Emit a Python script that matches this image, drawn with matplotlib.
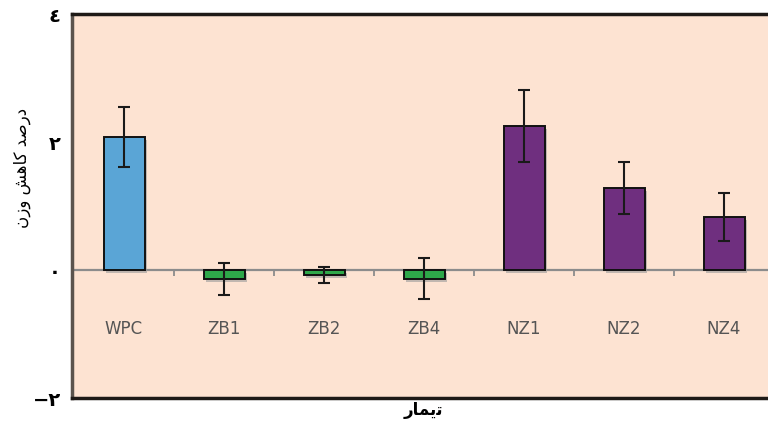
import matplotlib
matplotlib.use("Agg")
import matplotlib.pyplot as plt
import matplotlib.patheffects as pe

# ---- data ----
categories = ["WPC", "ZB1", "ZB2", "ZB4", "NZ1", "NZ2", "NZ4"]
values = [2.08, -0.14, -0.08, -0.14, 2.25, 1.28, 0.83]
errors = [0.47, 0.25, 0.12, 0.32, 0.57, 0.41, 0.38]
bar_colors = ["#5AA5D6", "#2EA84A", "#2EA84A", "#2EA84A", "#6F2F7F", "#6F2F7F", "#6F2F7F"]
ytick_values = [-2, 0, 2, 4]
ytick_labels = ["\u2212\u0662", "\u0660", "\u0662", "\u0664"]
# pre-shaped (presentation forms, visual order) Persian labels
ylabel_text = "\uFEE5\uFEAF\uFEED \uFEB6\uFEEB\uFE8E\uFB90 \uFEAA\uFEBB\uFEAD\uFEA9"  # درصد کاهش وزن
xlabel_text = "\uFEAD\uFE8E\uFEE4\uFBFE\uFE97"  # تیمار

fig = plt.figure(figsize=(7.68, 4.23), dpi=100)
fig.patch.set_facecolor("white")
ax = fig.add_axes([72 / 768, 1 - 398 / 423, 702 / 768, 384 / 423])
ax.set_facecolor("#FDE3D2")

x = list(range(len(categories)))
bars = ax.bar(x, values, width=0.41, color=bar_colors, edgecolor="#111111",
              linewidth=1.4, zorder=3)
for b in bars:
    b.set_path_effects([pe.SimplePatchShadow(offset=(2, -2), shadow_rgbFace="#9a9a9a", alpha=0.6),
                        pe.Normal()])
ax.errorbar(x, values, yerr=errors, fmt="none", ecolor="#1a1a1a", elinewidth=1.5,
            capsize=4, capthick=1.5, zorder=4)

ax.axhline(0, color="#8c8c8c", lw=1.6, zorder=2)
ax.vlines([i + 0.5 for i in x[:-1]], -0.09, 0, color="#8c8c8c", lw=1.3, zorder=2)

for xi, c in zip(x, categories):
    ax.text(xi, -0.92, c, ha="center", va="center", fontsize=12,
            color="#555555", family="DejaVu Sans")

ax.set_xlim(-0.52, 6.5)
ax.set_ylim(-2, 4)
ax.set_xticks([])
ax.set_yticks(ytick_values)
ax.set_yticklabels(ytick_labels, fontsize=14, fontweight="bold", family="DejaVu Sans")
ax.tick_params(axis="y", length=0, pad=8)

for s in ["top", "bottom", "right"]:
    ax.spines[s].set_color("#1e1a17")
    ax.spines[s].set_linewidth(2.5)
ax.spines["left"].set_color("#5b544e")
ax.spines["left"].set_linewidth(2.5)

fig.text(22 / 768, 1 - 168 / 423, ylabel_text, rotation=90, ha="center", va="center",
         fontsize=12, family="DejaVu Sans")
fig.text(423 / 768, 1 - 410 / 423, xlabel_text, ha="center", va="center",
         fontsize=12, fontweight="bold", family="DejaVu Sans")

fig.savefig("out.png", dpi=100, facecolor="white")
